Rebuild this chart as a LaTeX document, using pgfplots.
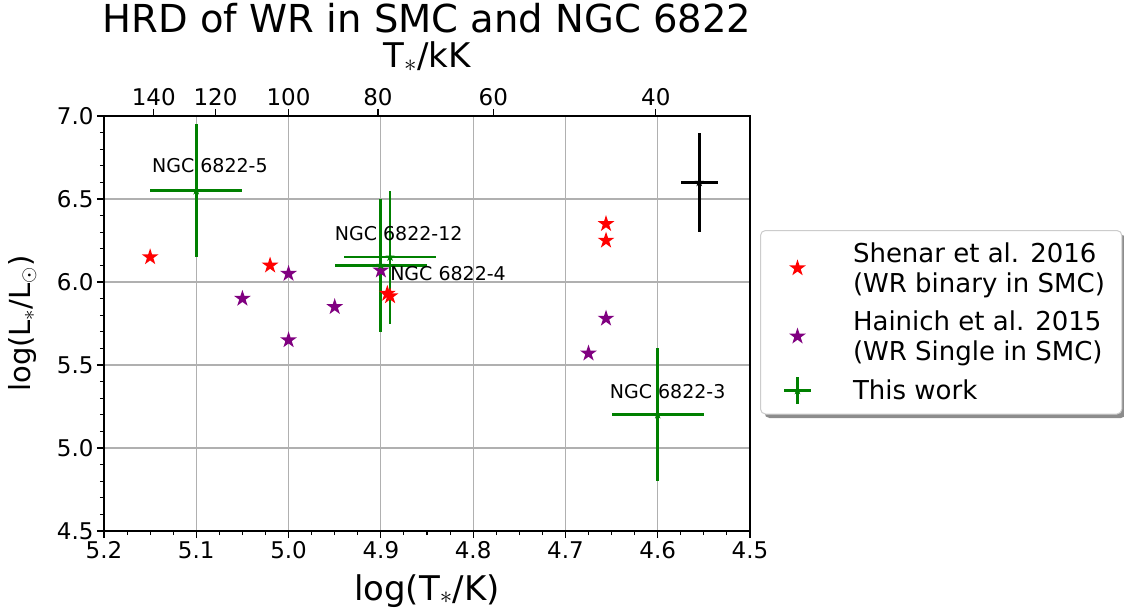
\documentclass[border=0pt]{standalone}
\usepackage{fontspec}
\setmainfont{DejaVu Sans}
\usepackage{pgfplots}
\usepackage{pgfplotstable}
\pgfplotsset{compat=1.18}
\usetikzlibrary{shadows,calc}

\definecolor{mplgreen}{HTML}{008000}
\definecolor{mplpurple}{HTML}{800080}
\definecolor{mplred}{HTML}{FF0000}
\definecolor{gridgray}{HTML}{B0B0B0}

\pgfdeclareplotmark{fstar}{%
  \pgfpathmoveto{\pgfpointpolar{90}{\pgfplotmarksize}}%
  \pgfpathlineto{\pgfpointpolar{126}{0.382*\pgfplotmarksize}}%
  \pgfpathlineto{\pgfpointpolar{162}{\pgfplotmarksize}}%
  \pgfpathlineto{\pgfpointpolar{198}{0.382*\pgfplotmarksize}}%
  \pgfpathlineto{\pgfpointpolar{234}{\pgfplotmarksize}}%
  \pgfpathlineto{\pgfpointpolar{270}{0.382*\pgfplotmarksize}}%
  \pgfpathlineto{\pgfpointpolar{306}{\pgfplotmarksize}}%
  \pgfpathlineto{\pgfpointpolar{342}{0.382*\pgfplotmarksize}}%
  \pgfpathlineto{\pgfpointpolar{18}{\pgfplotmarksize}}%
  \pgfpathlineto{\pgfpointpolar{54}{0.382*\pgfplotmarksize}}%
  \pgfpathclose
  \pgfusepathqfill}

% invisible spacer for legend images
\newcommand{\legspacer}{\pgfpathmoveto{\pgfqpoint{-22pt}{0pt}}\pgfpathlineto{\pgfqpoint{8pt}{0pt}}\pgfusepath{discard}}

\pgfplotstableread{
x y
5.15 6.15
5.02 6.10
4.893 5.93
4.890 5.915
4.656 6.35
4.656 6.25
}\shenar

\pgfplotstableread{
x y
5.05 5.90
5.00 6.05
5.00 5.65
4.95 5.85
4.90 6.07
4.656 5.78
4.675 5.57
}\hainich

\pgfplotstableread{
x y ex ey
5.10 6.55 0.05 0.4
4.89 6.15 0.05 0.4
4.90 6.10 0.05 0.4
4.60 5.20 0.05 0.4
}\thiswork

\pgfplotstableread{
x y ex ey
4.555 6.60 0.02 0.3
}\otherstar

\newcommand{\tickfont}{\fontsize{23}{26}\selectfont}

\begin{document}
\begin{tikzpicture}
\begin{axis}[
  name=ax,
  scale only axis, width=646pt, height=415pt,
  x dir=reverse,
  xmin=4.5, xmax=5.2, ymin=4.5, ymax=7.0,
  xtick={4.5,4.6,4.7,4.8,4.9,5.0,5.1,5.2},
  ytick={4.5,5.0,5.5,6.0,6.5,7.0},
  minor x tick num=3, minor y tick num=4,
  xtick pos=left, ytick pos=left,
  tick align=outside,
  major tick length=7pt, minor tick length=4pt,
  every tick/.style={black, line width=1.1pt},
  axis line style={line width=1.2pt},
  grid=major,
  major grid style={color=gridgray, line width=1.2pt},
  /pgf/number format/assume math mode=true,
  xticklabel style={font=\tickfont, /pgf/number format/fixed, /pgf/number format/fixed zerofill, /pgf/number format/precision=1},
  yticklabel style={font=\tickfont, /pgf/number format/fixed, /pgf/number format/fixed zerofill, /pgf/number format/precision=1},
  xlabel={log(T$_\ast$/K)},
  xlabel style={font=\fontsize{34}{38}\selectfont, at={(axis description cs:0.5,0)}, anchor=base, yshift=-69pt},
  ylabel={log(L$_\ast$/L$_\odot$)},
  ylabel style={font=\fontsize{29}{33}\selectfont, at={(axis description cs:-0.113,0.5)}, anchor=base},
  legend style={
    at={(axis description cs:1.0155,0.7253)}, anchor=north west,
    font=\fontsize{26}{30}\selectfont,
    draw=black!20, line width=1pt, rounded corners=5pt, fill=white,
    drop shadow={shadow xshift=4pt, shadow yshift=-4pt, fill=black!45, opacity=1},
    inner xsep=15pt, inner ysep=10pt,
    column sep=40pt, row sep=13pt,
    cells={anchor=west, align=left, inner sep=0pt},
  },
]
\addplot[only marks, mark=fstar, mark size=8.8pt, color=mplred, mark options={fill=mplred},
  legend image code/.code={\legspacer\pgfsetfillcolor{mplred}\pgfplotmarksize=8.8pt\pgfuseplotmark{fstar}}]
  table[x=x,y=y]{\shenar};
\addlegendentry{Shenar et al. 2016\\(WR binary in SMC)}
\addplot[only marks, mark=fstar, mark size=8.8pt, color=mplpurple, mark options={fill=mplpurple},
  legend image code/.code={\legspacer\pgfsetfillcolor{mplpurple}\pgfplotmarksize=8.8pt\pgfuseplotmark{fstar}}]
  table[x=x,y=y]{\hainich};
\addlegendentry{Hainich et al. 2015\\(WR Single in SMC)}
\addplot[only marks, mark=fstar, mark size=4.8pt, color=mplgreen, mark options={fill=mplgreen},
  legend image code/.code={\legspacer\pgfsetstrokecolor{mplgreen}\pgfsetlinewidth{2.7pt}\pgfpathmoveto{\pgfqpoint{-13.5pt}{0pt}}\pgfpathlineto{\pgfqpoint{13.5pt}{0pt}}\pgfpathmoveto{\pgfqpoint{0pt}{-13.5pt}}\pgfpathlineto{\pgfqpoint{0pt}{13.5pt}}\pgfusepathqstroke \pgfsetfillcolor{mplgreen}\pgfplotmarksize=4.8pt\pgfuseplotmark{fstar}},
  error bars/.cd, x dir=both, x explicit, y dir=both, y explicit,
  error bar style={line width=2.7pt, color=mplgreen}, error mark=none]
  table[x=x,y=y,x error=ex,y error=ey]{\thiswork};
\addlegendentry{This work}
\addplot[forget plot, only marks, mark=fstar, mark size=4.8pt, color=black, mark options={fill=black},
  error bars/.cd, x dir=both, x explicit, y dir=both, y explicit,
  error bar style={line width=2.7pt, color=black}, error mark=none]
  table[x=x,y=y,x error=ex,y error=ey]{\otherstar};
\node[anchor=base west, font=\fontsize{19}{22}\selectfont, inner sep=0pt] at (axis cs:5.148,6.657) {NGC 6822-5};
\node[anchor=base west, font=\fontsize{19}{22}\selectfont, inner sep=0pt] at (axis cs:4.950,6.253) {NGC 6822-12};
\node[anchor=base west, font=\fontsize{19}{22}\selectfont, inner sep=0pt] at (axis cs:4.890,6.008) {NGC 6822-4};
\node[anchor=base west, font=\fontsize{19}{22}\selectfont, inner sep=0pt] at (axis cs:4.652,5.300) {NGC 6822-3};
\end{axis}
\begin{axis}[
  scale only axis, width=646pt, height=415pt,
  x dir=reverse,
  xmin=4.5, xmax=5.2, ymin=4.5, ymax=7.0,
  axis x line*=top, axis y line=none,
  xtick={5.146128,5.079181,5.0,4.903090,4.778151,4.602060},
  xticklabels={140,120,100,80,60,40},
  tick align=outside, major tick length=7pt,
  every tick/.style={black, line width=1.1pt},
  axis line style={line width=1.2pt},
  xticklabel style={font=\tickfont},
  xlabel={T$_\ast$/kK},
  xlabel style={font=\fontsize{34}{38}\selectfont, at={(axis description cs:0.5,1)}, anchor=base, yshift=48pt},
]
\end{axis}
\node[anchor=base, font=\fontsize{38.5}{42}\selectfont] at ($(ax.north)+(0,83pt)$) {HRD of WR in SMC and NGC 6822};
\pgfresetboundingbox
\useasboundingbox ($(ax.south west)+(-104pt,-82pt)$) rectangle ($(ax.north east)+(374pt,116pt)$);
\end{tikzpicture}
\end{document}
